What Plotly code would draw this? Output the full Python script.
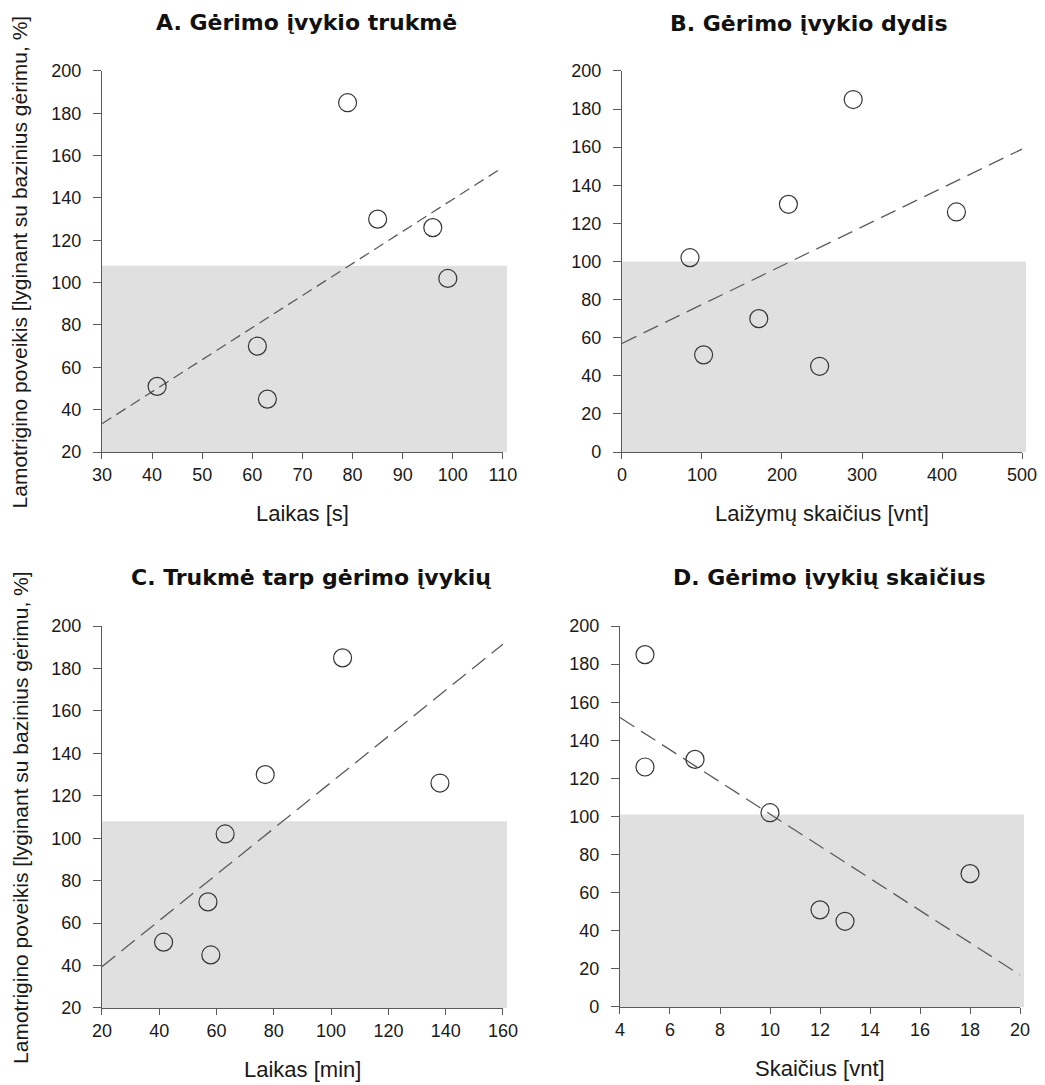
import numpy as np
import plotly.graph_objects as go

# Lamotrigine effect relative to baseline drinking (%), one value per animal
effect = [51, 70, 45, 185, 130, 126, 102]

# Drinking-microstructure measures for the same animals
bout_duration_s = [41, 61, 63, 79, 85, 96, 99]
bout_size_licks = [102, 171, 247, 289, 208, 418, 85]
interbout_min = [41.5, 57, 58, 104, 77, 138, 63]
bout_count = [12, 18, 13, 5, 7, 5, 10]

# Upper limit of the shaded reference band in each panel
band_top = [108, 100, 108, 101]

panel_titles = [
    "A. Gėrimo įvykio trukmė",
    "B. Gėrimo įvykio dydis",
    "C. Trukmė tarp gėrimo įvykių",
    "D. Gėrimo įvykių skaičius",
]
x_titles = ["Laikas [s]", "Laižymų skaičius [vnt]", "Laikas [min]", "Skaičius [vnt]"]
y_title = "Lamotrigino poveikis [lyginant su bazinius gėrimu, %]"

x_ranges = [[30, 110], [0, 500], [20, 160], [4, 20]]
x_dticks = [10, 100, 20, 2]
y_ranges = [[20, 200], [0, 200], [20, 200], [0, 200]]

x_values = [bout_duration_s, bout_size_licks, interbout_min, bout_count]

# Layout of the 2x2 grid (paper fractions)
x_domains = [[0.0976, 0.4813], [0.5952, 0.9780], [0.0976, 0.4813], [0.5933, 0.9761]]
y_domains = [[0.5834, 0.9346], [0.5834, 0.9346], [0.0710, 0.4230], [0.0719, 0.4230]]
title_pos = [(0.293, 0.9797), (0.774, 0.9788), (0.2976, 0.4673), (0.794, 0.4682)]
dash_styles = ["11px,6px", "16px,8px", "17px,8px", "17px,8px"]

AXIS_COLOR = "#5a5a5a"
TEXT_COLOR = "#1a1a1a"
BAND_COLOR = "#e0e0e0"

fig = go.Figure()
shapes = []
annotations = []

for i in range(4):
    n = "" if i == 0 else str(i + 1)
    xa, ya = "x" + n, "y" + n
    xs = np.array(x_values[i], dtype=float)
    ys = np.array(effect, dtype=float)

    # least-squares trend line across the axis range
    slope, intercept = np.polyfit(xs, ys, 1)
    lx = np.array(x_ranges[i], dtype=float)
    fig.add_trace(go.Scatter(
        x=lx, y=slope * lx + intercept, mode="lines", xaxis=xa, yaxis=ya,
        line=dict(color="#5c5c5c", width=1.3, dash=dash_styles[i]),
        hoverinfo="skip", showlegend=False,
    ))
    fig.add_trace(go.Scatter(
        x=xs, y=ys, mode="markers", xaxis=xa, yaxis=ya, cliponaxis=False,
        marker=dict(symbol="circle-open", size=18, color="#363636",
                    line=dict(width=1.2, color="#363636")),
        showlegend=False,
    ))

    shapes.append(dict(
        type="rect", xref=xa + " domain", yref=ya, layer="below",
        x0=0, x1=1.01, y0=y_ranges[i][0], y1=band_top[i],
        fillcolor=BAND_COLOR, line=dict(width=0),
    ))

    axis_common = dict(
        showline=True, linecolor=AXIS_COLOR, linewidth=1.3,
        ticks="outside", tickcolor=AXIS_COLOR, tickwidth=1.2,
        showgrid=False, zeroline=False, automargin=False,
        tickfont=dict(family="Liberation Sans, Arial", size=18, color=TEXT_COLOR),
    )
    fig.layout["xaxis" + n] = dict(
        axis_common, domain=x_domains[i], anchor=ya, range=x_ranges[i],
        tick0=x_ranges[i][0], dtick=x_dticks[i], ticklen=6,
    )
    fig.layout["yaxis" + n] = dict(
        axis_common, domain=y_domains[i], anchor=xa, range=y_ranges[i],
        tick0=0, dtick=20, ticklen=8, ticklabelstandoff=8,
    )

    tx, ty = title_pos[i]
    annotations.append(dict(
        text="<b>" + panel_titles[i] + "</b>", x=tx, y=ty, xref="paper", yref="paper",
        xanchor="center", yanchor="middle", showarrow=False,
        font=dict(family="DejaVu Sans", size=22, color="#111111"),
    ))
    xmid = (x_domains[i][0] + x_domains[i][1]) / 2
    annotations.append(dict(
        text=x_titles[i], x=xmid, y=y_domains[i][0] - 0.0565, xref="paper", yref="paper",
        xanchor="center", yanchor="middle", showarrow=False,
        font=dict(family="Liberation Sans, Arial", size=22, color=TEXT_COLOR),
    ))

for yd in (y_domains[0], y_domains[2]):
    annotations.append(dict(
        text=y_title, x=0.0191, y=(yd[0] + yd[1]) / 2, xref="paper", yref="paper",
        xanchor="center", yanchor="middle", textangle=-90, showarrow=False,
        font=dict(family="Liberation Sans, Arial", size=21, color=TEXT_COLOR),
    ))

fig.update_layout(
    width=1045, height=1085,
    margin=dict(l=0, r=0, t=0, b=0),
    paper_bgcolor="white", plot_bgcolor="white",
    shapes=shapes, annotations=annotations,
    showlegend=False,
)

fig.write_html("out.html")
